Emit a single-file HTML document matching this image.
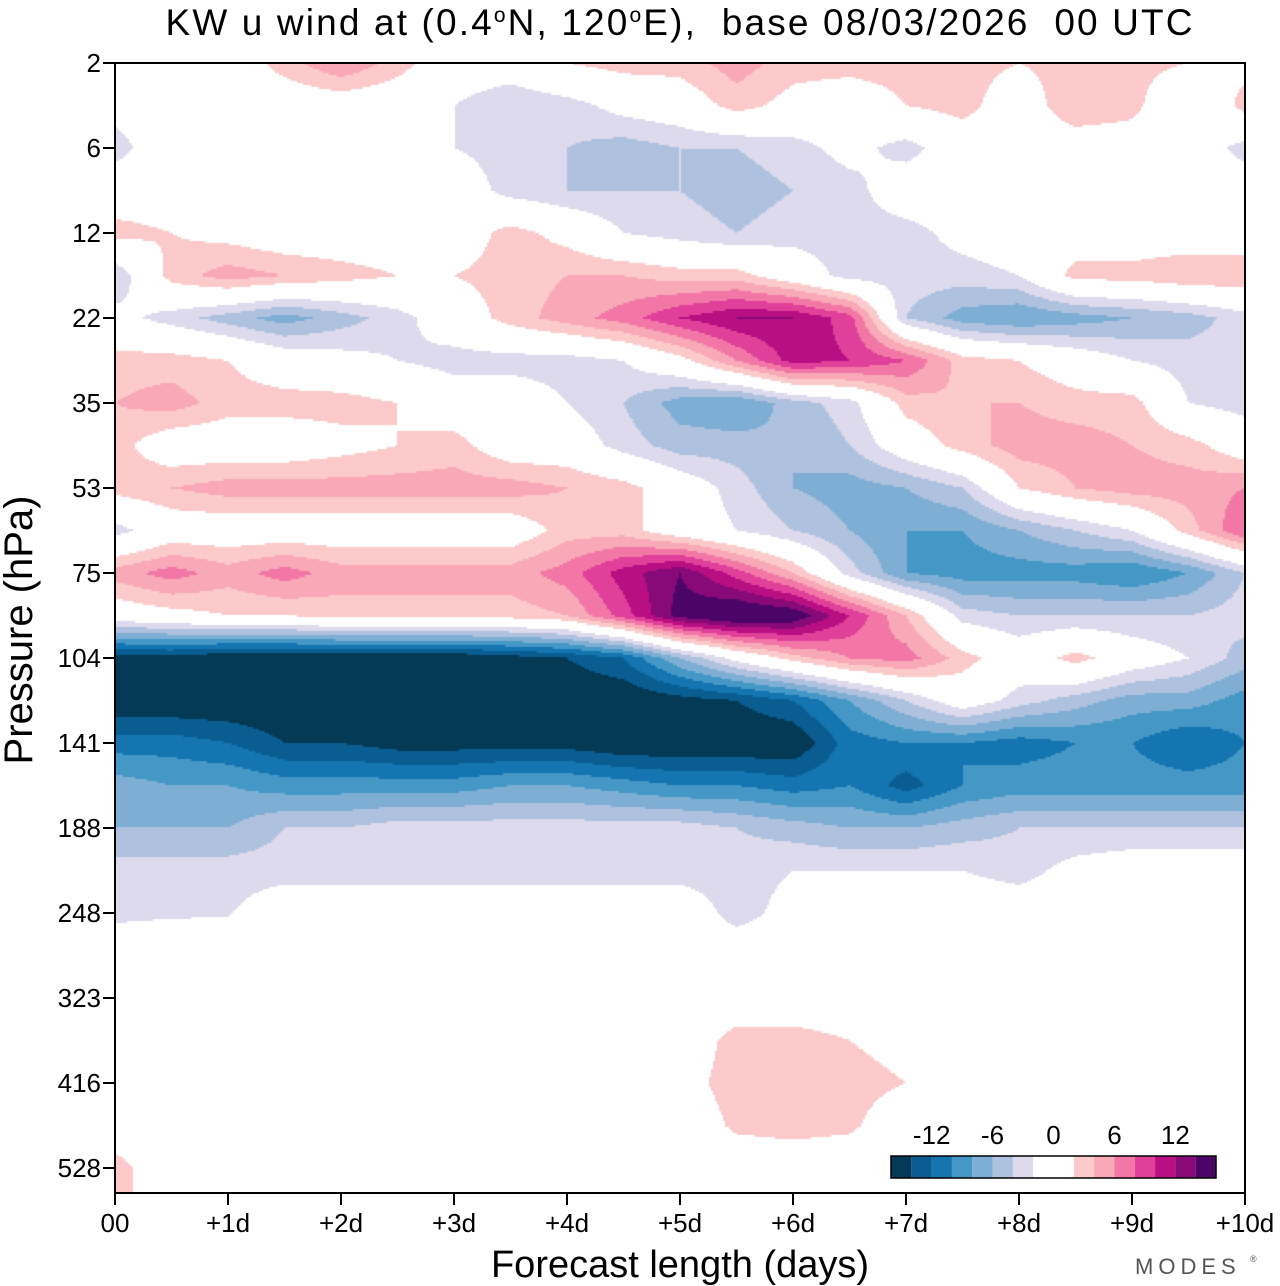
<!DOCTYPE html>
<html><head><meta charset="utf-8"><style>
body{margin:0;background:#fff;}
#wrap{position:relative;width:1280px;height:1286px;overflow:hidden;font-family:"Liberation Sans",sans-serif;}
canvas{position:absolute;left:115px;top:63px;}
svg{position:absolute;left:0;top:0;}
</style></head><body>
<div id="wrap">
<canvas id="cv" width="1130" height="1130"></canvas>
<svg id="sv" width="1280" height="1286"></svg>
</div>
<script>
const pressureLabels=["2","6","12","22","35","53","75","104","141","188","248","323","416","528"];
const dayLabels=["00","+1d","+2d","+3d","+4d","+5d","+6d","+7d","+8d","+9d","+10d"];
const times=[0,0.5,1,1.5,2,2.5,3,3.5,4,4.5,5,5.5,6,6.5,7,7.5,8,8.5,9,9.5,10];
const levelLevels=[0,0.5,1,1.5,2,2.5,3,3.5,4,4.5,5,5.5,6,6.5,7,7.5,8,8.5,9,9.5,10,10.5,11,11.5,12,12.5,13];
const uRows=[
[0,0,0,3,6,3,0,0,2,3,3,5,3,3,3,3,2,3,3,2,1],
[-1,0,0,0,0,0,-2,-4,-3,-1,0,3,1,0,2,3,0,4,3,-2,3],
[-3,0,-2,-2,0,2,-2,-3,-4,-5,-4,-4,-3,-1,-3,0,0,0,0,0,-3],
[0,0,0,-2,2,1,0,-3,-4,-4,-4,-5,-4,-3,0,0,0,0,0,0,0],
[3,2,1,0,0,0,0,3,1,-2,-3,-4,-3,-3,-3,-1,0,0,0,0,0],
[-4,3,5,4,3,2,2,3,4,4,3,3,0,-3,-3,-3,-2,3,3,4,4],
[-1,-3,-5,-7,-5,-3,0,3,5,7,10,12,12,9,-4,-7,-8,-7,-6,-5,-3],
[3,3,2,0,-1,-2,-3,-3,-3,-2,1,6,11,10,8,3,2,0,-2,-3,-3],
[4,5,3,3,3,2,0,0,-2,-4,-7,-8,-5,-3,3,4,4,3,3,-2,-3],
[3,0,0,0,1,2,3,0,0,-3,-5,-5,-6,-4,0,3,5,5,4,3,0],
[3,4,5,5,5,5,5,5,4,3,0,-3,-6,-7,-6,-4,2,4,5,5,6],
[-3,0,0,0,0,0,0,0,3,3,0,-2,-4,-6,-8,-8,-6,-4,-2,3,8],
[5,7,5,7,5,5,5,5,7,11,14,9,4,-3,-8,-9,-9,-9,-10,-8,-4],
[0,1,2,2,3,3,3,3,4,9,15,17,16,10,4,-3,-4,-4,-4,-4,-3],
[-15,-15,-16,-16,-16,-16,-16,-15,-14,-12,-6,-1,3,6,7,3,0,3,0,-2,-5],
[-16,-16,-16,-16,-16,-16,-16,-16,-16,-16,-15,-14,-12,-8,-4,0,-3,-5,-7,-7,-9],
[-11,-11,-12,-14,-14,-15,-15,-15,-15,-16,-16,-16,-16,-11,-10,-10,-11,-10,-10,-12,-10],
[-7,-8,-8,-9,-9,-9,-9,-8,-8,-9,-10,-10,-11,-10,-13,-10,-9,-9,-9,-9,-9],
[-6,-6,-6,-4,-4,-3,-3,-3,-3,-3,-3,-4,-5,-6,-6,-5,-4,-4,-4,-4,-4],
[-3,-3,-3,-3,-3,-3,-3,-3,-3,-3,-3,-3,-2,-2,-2,-2,-3,-1,0,0,0],
[-2.6,-2.3,-2.2,0,0,0,0,0,0,0,0,-3,-1,0,0,0,0,0,0,0,0],
[0,0,0,0,0,0,0,0,0,0,0,0,0,0,0,0,0,0,0,0,0],
[0,0,0,0,0,0,0,0,0,0,0,0,0,0,0,0,0,0,0,0,0],
[0,0,0,0,0,0,0,0,0,0,0,3,3,2,1,2,0,0,0,0,0],
[0,0,0,0,0,0,0,0,0,0,1,3,3,3,2,0,0,0,0,0,0],
[0,0,0,0,0,0,0,0,0,0,0,2.5,3,2.5,0,0,0,0,0,0,0],
[3,0,0,1,1,0,0,0,0,0,0,0,0,0,0,0,0,0,0,0,0]
];
const bounds=[-14,-12,-10,-8,-6,-4,-2,2,4,6,8,10,12,14];
const colors=["#053a56","#0a5d91","#1475b1","#4597c6","#7eaed4","#aec1de","#dcdaec","#ffffff","#fccaca","#f8a8b6","#f277a6","#e0409a","#b80f83","#880a78","#4c0468"];
const X0=115,X1=1245,Y0=63,Y1=1193;
const xs=d=>X0+(X1-X0)*d/10;
const ys=l=>Y0+85*l;
function colorOf(v){let i=0;while(i<bounds.length&&v>=bounds[i])i++;return colors[i];}
function sample(d,l){
  let ci=d/(times[1]-times[0]);ci=Math.max(0,Math.min(times.length-1.0001,ci));
  let ri=l/(levelLevels[1]-levelLevels[0]);ri=Math.max(0,Math.min(levelLevels.length-1.0001,ri));
  const c=Math.floor(ci),r=Math.floor(ri),fc=ci-c,fr=ri-r;
  const a=uRows[r][c],b=uRows[r][c+1],e=uRows[r+1][c],f=uRows[r+1][c+1];
  return a*(1-fc)*(1-fr)+b*fc*(1-fr)+e*(1-fc)*fr+f*fc*fr;
}
const cv=document.getElementById('cv'),ctx=cv.getContext('2d');
const S=2;
for(let py=0;py<1130;py+=S){for(let px=0;px<1130;px+=S){
  const d=(px+S/2)/(X1-X0)*10,l=(py+S/2)/85;
  ctx.fillStyle=colorOf(sample(d,l));ctx.fillRect(px,py,S,S);
}}
const NS="http://www.w3.org/2000/svg",sv=document.getElementById('sv');
function mk(t,attrs,txt){const e=document.createElementNS(NS,t);for(const k in attrs)e.setAttribute(k,attrs[k]);if(txt!==undefined)e.textContent=txt;sv.appendChild(e);return e;}
let e;
e=mk('rect',{x:X0,y:Y0,width:X1-X0,height:Y1-Y0,fill:'none',stroke:'#000','stroke-width':2});


pressureLabels.forEach((p,i)=>{
  const y=ys(i);
  e=mk('line',{x1:X0-12,x2:X0,y1:y,y2:y,stroke:'#000','stroke-width':2});
  
  
  e=mk('text',{x:X0-14,y:y+9,'text-anchor':'end','font-size':26,fill:'#000'},p);
  
  
});
dayLabels.forEach((t,i)=>{
  const x=xs(i);
  e=mk('line',{x1:x,x2:x,y1:Y1,y2:Y1+12,stroke:'#000','stroke-width':2});
  
  
  e=mk('text',{x:x,y:1232,'text-anchor':'middle','font-size':26,fill:'#000'},t);
  
  
});
e=mk('text',{x:680,y:1277,'text-anchor':'middle','font-size':38,fill:'#000'},'Forecast length (days)');


e=mk('text',{x:0,y:0,'text-anchor':'middle','font-size':40,fill:'#000',transform:'translate(32,630) rotate(-90)'},'Pressure (hPa)');


e=mk('text',{x:679,y:35,'text-anchor':'middle','font-size':37,fill:'#000',style:'white-space:pre',textLength:1027,lengthAdjust:'spacing'});
e.innerHTML='KW u wind at (0.4<tspan dy="-13" font-size="21">o</tspan><tspan dy="13">N, 120</tspan><tspan dy="-13" font-size="21">o</tspan><tspan dy="13">E),  base 08/03/2026  00 UTC</tspan>';


const LX=891,LW=325/16,LY=1156,LH=22;
let lx=LX;
colors.forEach((c,i)=>{
  const w=(c==="#ffffff")?2*LW:LW;
  e=mk('rect',{x:lx,y:LY,width:w,height:LH,fill:c});
  
  
  lx+=w;
});
e=mk('rect',{x:LX,y:LY,width:325,height:LH,fill:'none',stroke:'#000','stroke-width':1.5});


[["-12",LX+2*LW],["-6",LX+5*LW],["0",LX+8*LW],["6",LX+11*LW],["12",LX+14*LW]].forEach(([t,x])=>{
  e=mk('text',{x:x,y:1144,'text-anchor':'middle','font-size':26,fill:'#000'},t);
  
  
});
e=mk('text',{x:1135,y:1274,'font-size':22,fill:'#555','letter-spacing':'5'},'MODES');


e=mk('text',{x:1250,y:1262,'font-size':9,fill:'#555'},'®');


</script>
</body></html>
